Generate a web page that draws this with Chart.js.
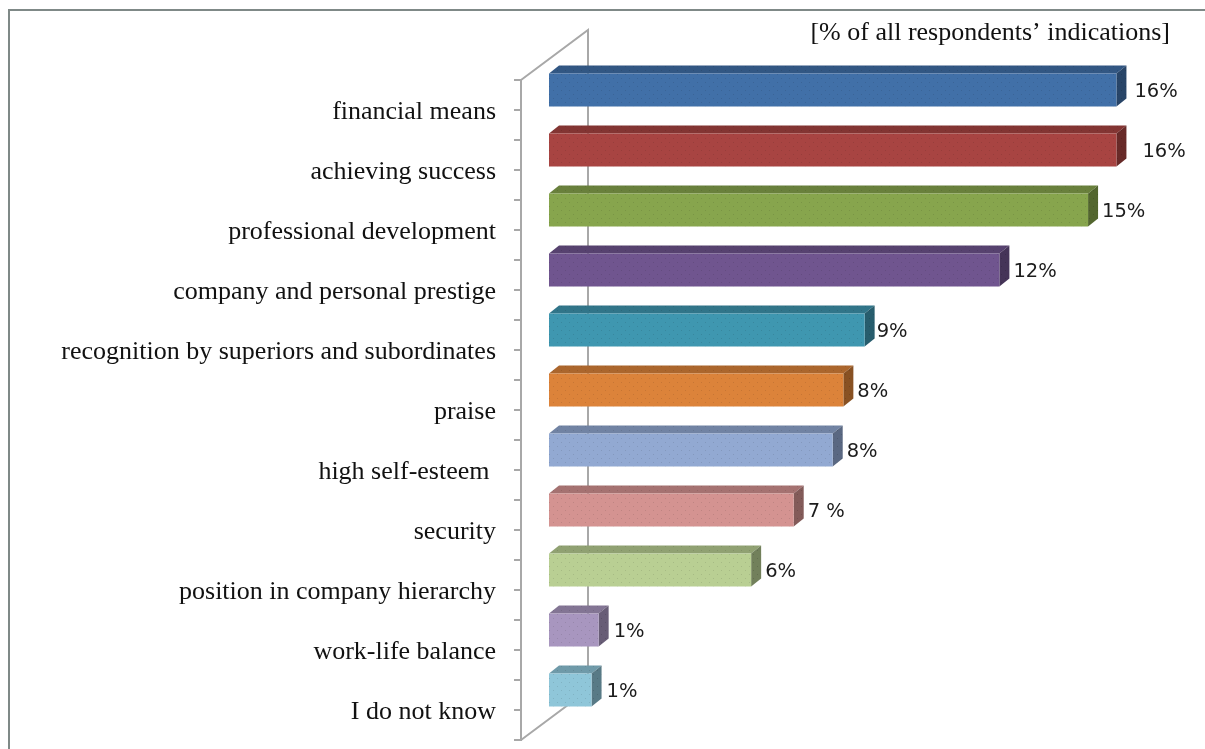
<!DOCTYPE html>
<html>
<head>
<meta charset="utf-8">
<style>
    html, body { margin: 0; background: #fff; overflow: hidden; }
    canvas { display: block; filter: blur(0.5px); }
</style>
<script src="https://cdn.jsdelivr.net/npm/chart.js@4"></script>
</head>
<body>
<canvas id="grafico" width="1205" height="749"></canvas>
<script>
const categorias = ["financial means", "achieving success", "professional development", "company and personal prestige",
    "recognition by superiors and subordinates", "praise", "high self-esteem ", "security",
    "position in company hierarchy", "work-life balance", "I do not know"]
const valores = [16, 16, 15.2, 12.7, 8.9, 8.3, 8, 6.9, 5.7, 1.4, 1.2]
const rotulos = ["16%", "16%", "15%", "12%", "9%", "8%", "8%", "7 %", "6%", "1%", "1%"]
const cores = ["#4170a8", "#a84442", "#87a54d", "#70558f", "#3f97b0", "#dc833a", "#92a9d2", "#d49391", "#b9cf93", "#a896bf", "#8fc6d9"]
const titulo = "[% of all respondents\u2019 indications]"

// distancia extra de cada rotulo ate a barra
const folgaRotulo = [8, 16, 4, 4, 2, 4, 4, 4, 4, 5, 5]

const corEixo = "#a8a8a8"
// deslocamento das barras em relacao ao plano do eixo
const frenteX = 28, frenteY = -20
// profundidade da barra e da parede
const fundoX = 10, fundoY = -8
const paredeX = 67, paredeY = -50

function escurecer(hex, f) {
    const n = parseInt(hex.slice(1), 16)
    return `rgb(${(n >> 16) * f | 0},${((n >> 8) & 255) * f | 0},${(n & 255) * f | 0})`
}

// textura pontilhada das barras
function pontilhado(cor, corPonto) {
    const c = document.createElement("canvas")
    c.width = 8
    c.height = 8
    const g = c.getContext("2d")
    g.fillStyle = cor
    g.fillRect(0, 0, 8, 8)
    g.fillStyle = corPonto
    g.fillRect(1, 2, 1, 1)
    g.fillRect(5, 6, 1, 1)
    return g.createPattern(c, "repeat")
}

const moldura = {
    id: "moldura",
    beforeDraw(chart) {
        const ctx = chart.ctx
        ctx.save()
        ctx.fillStyle = "#7f8987"
        ctx.fillRect(8, 9, chart.width - 8, 2)
        ctx.fillRect(8, 9, 2, chart.height - 9)
        ctx.restore()
    }
}

const parede = {
    id: "parede",
    // os textos do eixo ficam um pouco abaixo das marcas
    afterLayout(chart) {
        chart.scales.y.getLabelItems().forEach(item => {
            item.options.translation[1] += 2
        })
    },
    beforeDatasetsDraw(chart) {
        const { ctx, chartArea: { left, top, bottom } } = chart
        const y = chart.scales.y
        ctx.save()
        ctx.strokeStyle = corEixo
        ctx.lineWidth = 2
        ctx.beginPath()
        ctx.moveTo(left, top)
        ctx.lineTo(left + paredeX, top + paredeY)
        ctx.lineTo(left + paredeX, bottom + paredeY)
        ctx.lineTo(left, bottom)
        // marcas no centro de cada categoria
        categorias.forEach((_, i) => {
            const p = y.getPixelForTick(i)
            ctx.moveTo(left - 7, p)
            ctx.lineTo(left, p)
        })
        ctx.stroke()
        ctx.restore()
    }
}

const barras3d = {
    id: "barras3d",
    beforeDatasetDraw(chart, args) {
        const ctx = chart.ctx
        ctx.save()
        ctx.translate(frenteX, frenteY)
        args.meta.data.forEach((bar, i) => {
            const topo = bar.y - bar.height / 2
            const base = bar.y + bar.height / 2
            ctx.fillStyle = pontilhado(escurecer(cores[i], 0.78), escurecer(cores[i], 0.7))
            ctx.beginPath()
            ctx.moveTo(bar.base, topo)
            ctx.lineTo(bar.base + fundoX, topo + fundoY)
            ctx.lineTo(bar.x + fundoX, topo + fundoY)
            ctx.lineTo(bar.x, topo)
            ctx.fill()
            ctx.fillStyle = pontilhado(escurecer(cores[i], 0.62), escurecer(cores[i], 0.54))
            ctx.beginPath()
            ctx.moveTo(bar.x, topo)
            ctx.lineTo(bar.x + fundoX, topo + fundoY)
            ctx.lineTo(bar.x + fundoX, base + fundoY)
            ctx.lineTo(bar.x, base)
            ctx.fill()
        })
    },
    afterDatasetDraw(chart, args) {
        const ctx = chart.ctx
        args.meta.data.forEach((bar, i) => {
            ctx.fillStyle = "#1c1c1c"
            ctx.font = "19.5px 'DejaVu Sans'"
            ctx.textAlign = "left"
            ctx.textBaseline = "middle"
            ctx.fillText(rotulos[i], bar.x + fundoX + folgaRotulo[i], bar.y + 2)
        })
        ctx.restore()
    }
}

let grafico = new Chart(document.getElementById("grafico"), {
    type: "bar",
    data: {
        labels: categorias,
        datasets: [{
            data: valores,
            backgroundColor: cores.map(c => pontilhado(c, escurecer(c, 0.9))),
            barPercentage: 0.55,
            categoryPercentage: 1,
            clip: false,
        }]
    },
    options: {
        indexAxis: "y",
        responsive: false,
        animation: false,
        layout: { autoPadding: false, padding: { right: 35, bottom: 9 } },
        scales: {
            x: { display: false, min: 0, max: 18.3 },
            y: {
                afterFit(scale) {
                    scale.width = 521
                    scale.paddingTop = 0
                    scale.paddingBottom = 0
                },
                border: { color: corEixo, width: 2 },
                grid: { drawOnChartArea: false, color: corEixo, lineWidth: 2, tickLength: 7 },
                ticks: { padding: 18, color: "#111", font: { family: "'Liberation Serif'", size: 26 } }
            }
        },
        plugins: {
            legend: { display: false },
            tooltip: { enabled: false },
            title: {
                display: true,
                text: titulo,
                align: "end",
                color: "#111",
                font: { family: "'Liberation Serif'", size: 26, weight: "normal", lineHeight: 1 },
                padding: { top: 20, bottom: 34 }
            }
        }
    },
    plugins: [moldura, parede, barras3d]
})
</script>
</body>
</html>
